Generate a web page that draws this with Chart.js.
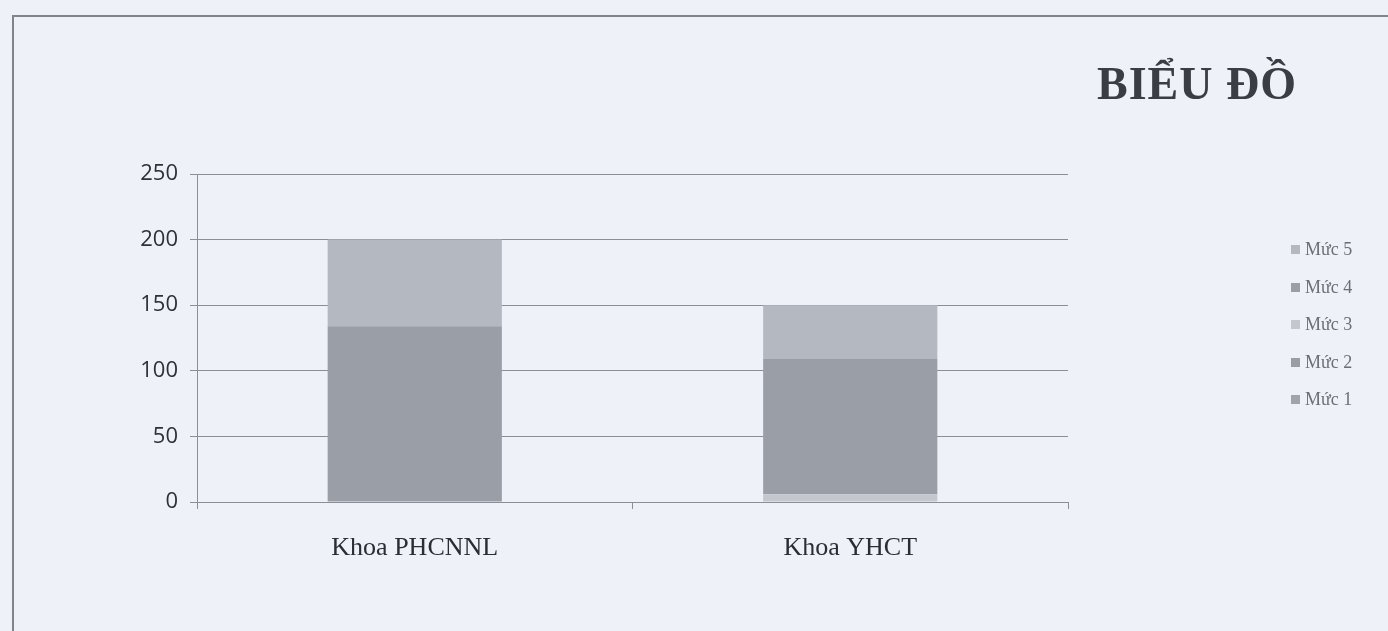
<!DOCTYPE html>
<html>
<head>
<meta charset="utf-8">
<script src="https://cdn.jsdelivr.net/npm/chart.js@4.4.1/dist/chart.umd.min.js"></script>
<style>
  html, body { margin: 0; padding: 0; background: #eef2f8; }
  #wrap { position: relative; width: 1388px; height: 631px; overflow: hidden; }
  #frame { position: absolute; left: 12px; top: 15px; width: 1400px; height: 640px;
           border-left: 2px solid #80848b; border-top: 2px solid #80848b; }
  #title { position: absolute; left: 1097px; top: 57px; font-family: 'Liberation Serif', serif;
           font-weight: bold; font-size: 46px; color: #3a3d44; letter-spacing: 1px; }
  #legend { position: absolute; left: 1291px; top: 231px; font-family: 'Liberation Serif', serif;
            font-size: 18px; color: #6a6e76; }
  .item { height: 37.5px; display: flex; align-items: center; }
  .box { width: 9px; height: 9px; margin-right: 5px; }
  canvas { position: absolute; left: 0; top: 0; }
</style>
</head>
<body>
<div id="wrap">
  <div id="frame"></div>
  <canvas id="chart" width="1388" height="631"></canvas>
  <div id="title">BIỂU ĐỒ</div>
  <div id="legend"></div>
</div>
<script>
const categories = ['Khoa PHCNNL', 'Khoa YHCT'];
const seriesNames = ['Mức 1', 'Mức 2', 'Mức 3', 'Mức 4', 'Mức 5'];
const muc1 = [0, 0];
const muc2 = [0, 0];
const muc3 = [0, 6];
const muc4 = [134, 103];
const muc5 = [66, 41];
const yTicks = [0, 50, 100, 150, 200, 250];
const seriesColors = ['#a0a4ac', '#999da6', '#c4c7cd', '#9a9ea7', '#b4b8c0'];

const values = [muc1, muc2, muc3, muc4, muc5];
const datasets = seriesNames.map((name, i) => ({
    label: name,
    data: values[i],
    backgroundColor: seriesColors[i],
    borderWidth: 0,
    categoryPercentage: 0.8,
    barPercentage: 0.5
}));

// legend, top to bottom in reverse order
const legend = document.getElementById('legend');
for (let i = seriesNames.length - 1; i >= 0; i--) {
    const row = document.createElement('div');
    row.className = 'item';
    row.innerHTML = '<span class="box" style="background:' + seriesColors[i] + '"></span>' + seriesNames[i];
    legend.appendChild(row);
}

new Chart(document.getElementById('chart').getContext('2d'), {
    type: 'bar',
    data: { labels: categories, datasets: datasets },
    options: {
        responsive: false,
        animation: false,
        layout: { padding: { top: 174, right: 320, left: 0, bottom: 0 } },
        plugins: { legend: { display: false }, tooltip: { enabled: false } },
        scales: {
            x: {
                stacked: true,
                grid: { display: true, drawOnChartArea: false, offset: true, color: '#8a8e96', tickLength: 7 },
                border: { color: '#8a8e96' },
                ticks: { color: '#2a2d33', padding: 24, font: { family: "'Liberation Serif', serif", size: 26 } },
                afterFit: scale => { scale.height = 129; }
            },
            y: {
                stacked: true,
                min: 0,
                max: 250,
                afterBuildTicks: scale => { scale.ticks = yTicks.map(v => ({ value: v })); },
                grid: { color: '#8a8e96', tickLength: 7 },
                border: { color: '#8a8e96' },
                ticks: { color: '#2e3137', padding: 12, font: { family: "'Open Sans', sans-serif", size: 22 } },
                afterFit: scale => { scale.width = 197; }
            }
        }
    }
});
</script>
</body>
</html>
